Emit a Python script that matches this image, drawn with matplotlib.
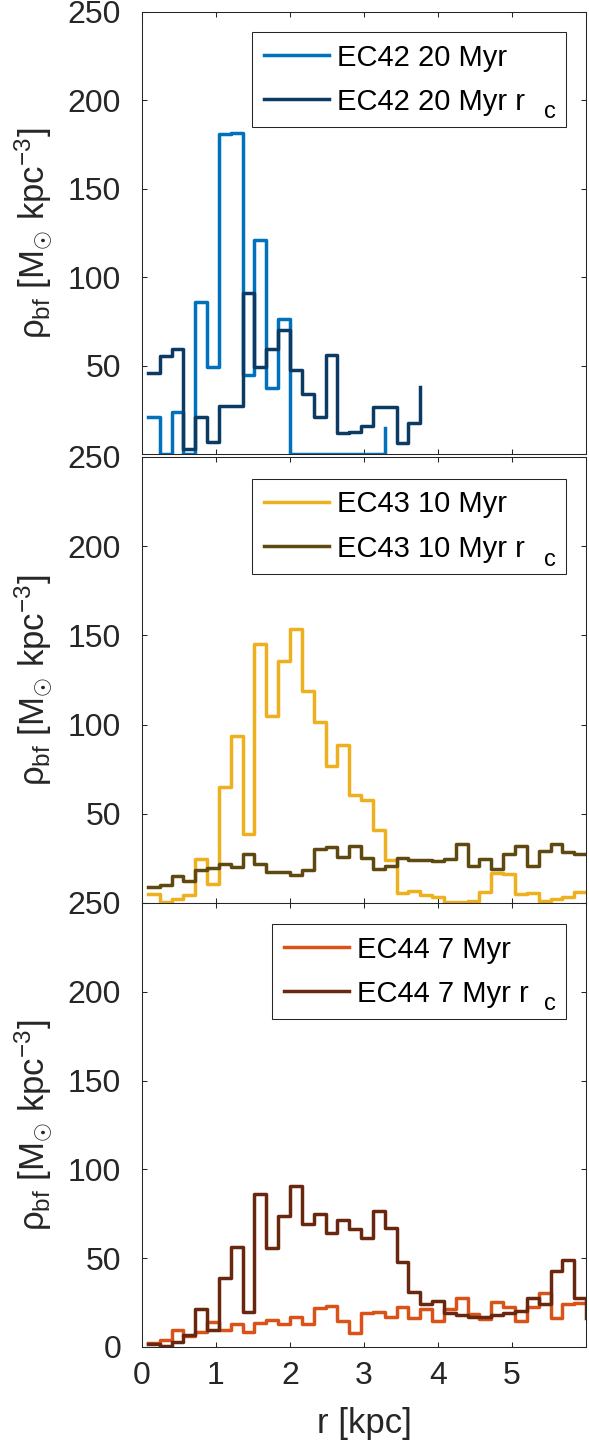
import numpy as np
import matplotlib.pyplot as plt

plt.rcParams['font.family'] = ['Liberation Sans', 'DejaVu Sans']
plt.rcParams['mathtext.fontset'] = 'custom'
plt.rcParams['mathtext.rm'] = 'Liberation Sans'
plt.rcParams['mathtext.it'] = 'Liberation Sans'

# radial bin positions [kpc]
r = [0.08, 0.24, 0.40, 0.56, 0.72, 0.88, 1.04, 1.20, 1.36, 1.52, 1.68, 1.84,
     2.00, 2.16, 2.32, 2.48, 2.64, 2.80, 2.96, 3.12, 3.28, 3.44, 3.60, 3.76,
     3.92, 4.08, 4.24, 4.40, 4.56, 4.72, 4.88, 5.04, 5.20, 5.36, 5.52, 5.68,
     5.84, 6.00]

ec42 = [20.7, 0, 23.6, 0, 86.2, 49.4, 180.8, 181.8, 44.7, 121, 37.1, 76.2,
        0, 0, 0, 0, 0, 0, 0, 0, 14.5]
ec42_rc = [45.6, 55.4, 59.2, 2.6, 20.7, 7.0, 27.1, 27.1, 91.3, 49.4, 59.2, 70.1,
           47.5, 33.9, 20.7, 56.0, 12.1, 12.6, 15.8, 26.4, 26.4, 6.4, 17.3, 38.1]

ec43 = [5.1, 0.4, 2.3, 4.5, 24.8, 10.7, 65.1, 93.8, 38.8, 145.3, 104.8, 135.9,
        153.6, 119.1, 101.3, 76.7, 88.5, 60.4, 57.9, 41.1, 24.2, 5.4, 6.6, 4.7,
        3.2, 0.4, 0.4, 1.3, 6.0, 16.7, 16.3, 5.1, 5.4, 0.9, 2.3, 3.2, 6.0, 6.0]
ec43_rc = [8.8, 10.3, 15.0, 12.6, 18.6, 19.7, 21.9, 20.4, 27.6, 21.9, 17.3, 17.3,
           15.9, 18.6, 30.4, 31.3, 25.7, 31.7, 25.3, 19.1, 21.0, 25.3, 24.2, 24.2,
           23.4, 24.8, 33.2, 21.0, 24.8, 19.1, 27.2, 31.7, 21.0, 29.4, 33.2, 28.5,
           27.6, 27.6]

ec44 = [2.1, 3.9, 9.6, 6.2, 8.6, 14.3, 9.6, 13.0, 8.6, 13.7, 15.2, 13.0,
        17.1, 13.0, 21.8, 23.1, 14.8, 8.1, 19.4, 19.9, 16.7, 22.4, 16.2, 21.2,
        14.8, 21.2, 27.4, 18.6, 15.6, 25.6, 22.4, 14.8, 22.7, 30.3, 16.2, 24.2,
        25.0, 25.0]
ec44_rc = [1.7, 0.6, 3.0, 6.8, 21.2, 9.6, 39.1, 56.2, 19.9, 86.1, 55.6, 73.9,
           90.4, 69.4, 75.0, 64.1, 71.6, 66.4, 61.3, 76.3, 66.9, 48.1, 31.2, 24.2,
           26.1, 19.4, 18.0, 16.7, 16.7, 18.0, 19.4, 20.5, 27.4, 24.2, 42.5, 49.1,
           27.4, 16.2]

labels = [('EC42 20 Myr', 'EC42 20 Myr r'),
          ('EC43 10 Myr', 'EC43 10 Myr r'),
          ('EC44 7 Myr', 'EC44 7 Myr r')]
series = [(ec42, ec42_rc), (ec43, ec43_rc), (ec44, ec44_rc)]
colors = [('#0072BD', '#0b3b63'), ('#EDB120', '#5e4a10'), ('#D95319', '#6a2710')]
yticks = [0, 50, 100, 150, 200, 250]

# axes boxes in figure fraction: left, bottom, width, height
boxes = [(0.241, 0.6852, 0.754, 0.3065),
         (0.241, 0.3738, 0.754, 0.3093),
         (0.241, 0.0659, 0.754, 0.3079)]
leg_boxes = [(0.248, 0.707, 0.955), (0.248, 0.707, 0.951), (0.293, 0.662, 0.953)]
c_pos = [(0.906, 0.760), (0.906, 0.756), (0.906, 0.760)]

dark = '#262626'
fig = plt.figure(figsize=(5.89, 14.42), dpi=100)

for i in range(3):
    ax = fig.add_axes(boxes[i])
    y1, y2 = series[i]
    ax.step(r[:len(y1)], y1, where='post', color=colors[i][0], lw=2.5, label=labels[i][0])
    ax.step(r[:len(y2)], y2, where='post', color=colors[i][1], lw=2.5, label=labels[i][1])
    ax.set_xlim(0, 6)
    ax.set_ylim(0, 250)
    ax.set_xticks([0, 1, 2, 3, 4, 5])
    ax.set_yticks(yticks)
    if i < 2:
        # the "0" sits under the next panel's "250"
        ax.set_yticklabels([''] + [str(t) for t in yticks[1:]])
    ax.tick_params(direction='in', top=True, right=True, length=3.3, width=0.75,
                   color=dark, labelcolor=dark, labelsize=23)
    ax.tick_params(axis='y', pad=15)
    ax.tick_params(axis='x', pad=10)
    for s in ax.spines.values():
        s.set_color(dark)
        s.set_linewidth(0.75)
    if i < 2:
        ax.set_xticklabels([])
    else:
        ax.set_xlabel('r [kpc]', fontsize=25, color=dark)
        ax.xaxis.set_label_coords(0.5, -0.135)
        ax.xaxis.label.set_va('top')
    ax.set_ylabel(r'$\rho_{\mathrm{bf}}$ [M$_{\odot}$ kpc$^{-3}$]', fontsize=25, color=dark)
    ax.yaxis.set_label_coords(-0.198, 0.5)

    lx, lw, ly = leg_boxes[i]
    leg = ax.legend(loc='upper left', bbox_to_anchor=(lx, ly - 0.4, lw, 0.4),
                    mode='expand', borderaxespad=0, fontsize=21, fancybox=False,
                    framealpha=1, handlelength=2.25, handletextpad=0.25,
                    borderpad=0.4, labelspacing=0.55)
    leg.get_frame().set_edgecolor(dark)
    leg.get_frame().set_linewidth(0.75)
    ax.text(c_pos[i][0], c_pos[i][1], 'c', transform=ax.transAxes, fontsize=17,
            va='baseline', ha='left', color='black', zorder=10)

fig.savefig('out.png', dpi=100)
